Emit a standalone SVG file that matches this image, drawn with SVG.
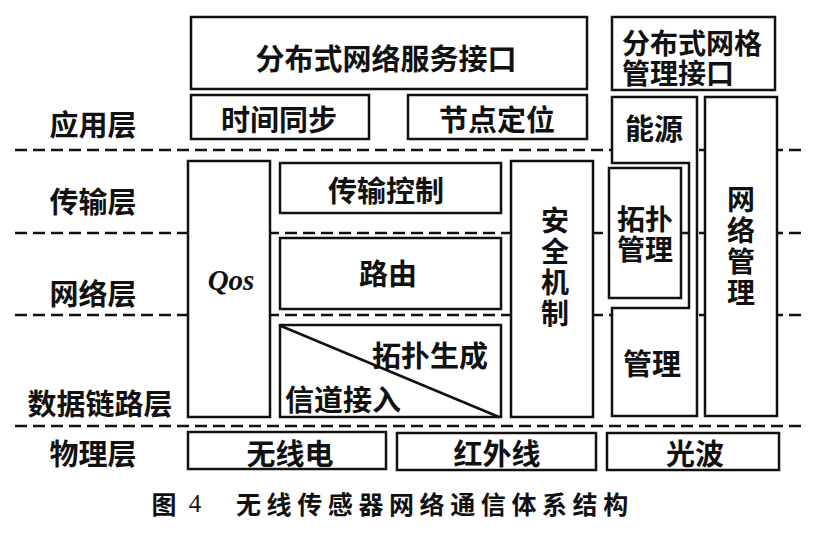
<svg xmlns="http://www.w3.org/2000/svg" width="822" height="543" viewBox="0 0 822 543">
<style>
.b{fill:#fff;stroke:#111;stroke-width:2.5}
.d{stroke:#111;stroke-width:2.5;stroke-dasharray:12 6;fill:none}
.t{font-family:"Noto Sans CJK SC","Noto Sans",sans-serif;font-size:29px;font-weight:bold;fill:#111;text-anchor:middle;dominant-baseline:central}
.s{font-size:28px}
.l{text-anchor:start}
</style>
<rect width="822" height="543" fill="#fff"/>
<g id="layer-lines">
<line class="d" x1="15" y1="150" x2="807" y2="150"/>
<line class="d" x1="15" y1="233" x2="807" y2="233"/>
<line class="d" x1="15" y1="315" x2="807" y2="315"/>
<line class="d" x1="15" y1="426" x2="807" y2="426"/>
</g>
<g id="layer-labels">
<text class="t" x="93" y="123">应用层</text>
<text class="t" x="93" y="200">传输层</text>
<text class="t" x="93" y="292">网络层</text>
<text class="t" x="100" y="402">数据链路层</text>
<text class="t" x="93" y="452">物理层</text>
</g>
<g id="dist-service-if"><rect class="b" x="191" y="17" width="396" height="72"/><text class="t" x="386" y="57">分布式网络服务接口</text></g>
<g id="time-sync"><rect class="b" x="191" y="95" width="178" height="44"/><text class="t" x="279" y="118">时间同步</text></g>
<g id="node-loc"><rect class="b" x="408" y="95" width="179" height="44"/><text class="t" x="497" y="118">节点定位</text></g>
<g id="qos"><rect class="b" x="188" y="161" width="82" height="256"/><text x="231" y="280" style="font-family:'Liberation Serif',serif;font-size:29px;font-style:italic;font-weight:bold;fill:#111;text-anchor:middle;dominant-baseline:central">Qos</text></g>
<g id="transport-ctrl"><rect class="b" x="280" y="163" width="221" height="50"/><text class="t" x="386" y="189">传输控制</text></g>
<g id="routing"><rect class="b" x="280" y="238" width="221" height="71"/><text class="t" x="388" y="272">路由</text></g>
<g id="topo-channel"><rect class="b" x="280" y="325" width="221" height="92"/><line x1="281" y1="326" x2="499" y2="417" stroke="#111" stroke-width="2.5"/><text class="t" x="430" y="354">拓扑生成</text><text class="t" x="343" y="398">信道接入</text></g>
<g id="security"><rect class="b" x="511" y="161" width="82" height="256"/><text class="t s" x="555"><tspan x="555" y="219">安</tspan><tspan x="555" y="250">全</tspan><tspan x="555" y="281">机</tspan><tspan x="555" y="312">制</tspan></text></g>
<g id="dist-grid-mgmt-if"><rect class="b" x="612" y="17" width="163" height="73"/><text class="t l s" x="622" y="42">分布式网格</text><text class="t l s" x="622" y="72">管理接口</text></g>
<g id="energy"><path class="b" d="M612,97 H697 V416 H612 V308 H689 V163 H612 Z"/><text class="t" x="654" y="127">能源</text><text class="t" x="652" y="362">管理</text></g>
<g id="topo-mgmt"><rect class="b" x="609" y="168" width="72" height="130"/><text class="t s" x="645" y="218">拓扑</text><text class="t s" x="645" y="248">管理</text></g>
<g id="net-mgmt"><rect class="b" x="705" y="97" width="72" height="319"/><text class="t s" x="741"><tspan x="741" y="198">网</tspan><tspan x="741" y="229">络</tspan><tspan x="741" y="260">管</tspan><tspan x="741" y="291">理</tspan></text></g>
<g id="radio"><rect class="b" x="188" y="432" width="198" height="37"/><text class="t" x="290" y="452">无线电</text></g>
<g id="infrared"><rect class="b" x="397" y="433" width="199" height="37"/><text class="t" x="497" y="452">红外线</text></g>
<g id="lightwave"><rect class="b" x="607" y="433" width="172" height="37"/><text class="t" x="695" y="452">光波</text></g>
<g id="caption"><text x="164" y="503" style="font-family:'Noto Sans CJK SC',sans-serif;font-size:25px;font-weight:bold;fill:#111;text-anchor:middle;dominant-baseline:central">图</text><text x="195" y="503" style="font-family:'Liberation Serif',serif;font-size:25px;fill:#111;text-anchor:middle;dominant-baseline:central">4</text><text x="236" y="503" style="font-family:'Noto Sans CJK SC',sans-serif;font-size:25px;font-weight:bold;fill:#111;letter-spacing:5.6px;dominant-baseline:central">无线传感器网络通信体系结构</text></g>
</svg>
